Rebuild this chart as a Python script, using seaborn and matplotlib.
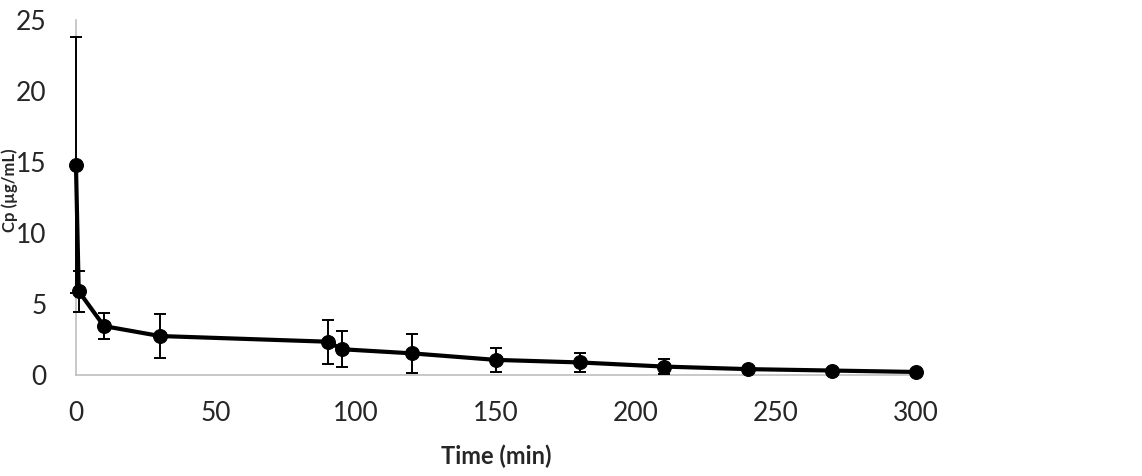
import numpy as np
import pandas as pd
import matplotlib
matplotlib.use("Agg")
import matplotlib.pyplot as plt
import seaborn as sns

# Plasma concentration over time, mean and SD
time_min = [0, 1, 10, 30, 90, 95, 120, 150, 180, 210, 240, 270, 300]
conc_mean = [14.8, 5.9, 3.45, 2.75, 2.35, 1.82, 1.53, 1.07, 0.89, 0.6, 0.42, 0.32, 0.22]
conc_sd = [9.0, 1.45, 0.9, 1.55, 1.55, 1.27, 1.37, 0.85, 0.67, 0.5, 0.12, 0.08, 0.06]

x_ticks = [0, 50, 100, 150, 200, 250, 300]
y_ticks = [0, 5, 10, 15, 20, 25]

df = pd.DataFrame({"Time": time_min, "Cp": conc_mean, "SD": conc_sd})

sns.set_style("white")
plt.rcParams["font.family"] = ["Lato", "DejaVu Sans"]

fig = plt.figure(figsize=(11.42, 4.76), dpi=100)
ax = fig.add_axes([0.0665, 0.212, 0.7355, 0.746])

# Error bars first, then the line with markers on top
eb = ax.errorbar(df["Time"], df["Cp"], yerr=df["SD"], fmt="none",
                 ecolor="black", elinewidth=1.4, capsize=4, capthick=1.4, zorder=2)
for part in eb.lines[1] + eb.lines[2]:
    part.set_clip_on(False)
sns.lineplot(data=df, x="Time", y="Cp", ax=ax, color="black", linewidth=3,
             marker="o", markersize=10, markeredgecolor="black", zorder=3)
for line in ax.get_lines():
    line.set_clip_on(False)

ax.set_xlim(0, 300)
ax.set_ylim(0, 25)
ax.set_xticks(x_ticks)
ax.set_yticks(y_ticks)

for side in ["top", "right"]:
    ax.spines[side].set_visible(False)
for side in ["left", "bottom"]:
    ax.spines[side].set_color("#bfbfbf")
    ax.spines[side].set_linewidth(1.2)
    ax.spines[side].set_zorder(1)

ax.tick_params(axis="both", which="major", direction="out", length=7, width=1.1,
               color="#bfbfbf", labelsize=19, labelcolor="#262626")
ax.tick_params(axis="x", pad=12)
ax.tick_params(axis="y", pad=14)

ax.set_xlabel("Time (min)", fontsize=17, fontweight="bold", labelpad=13)
ax.set_ylabel("")
fig.text(0.0085, 0.6, "Cp (µg/mL)", rotation=90, ha="center", va="center",
         fontsize=12, fontweight="bold")

fig.savefig("out.png", dpi=100)
